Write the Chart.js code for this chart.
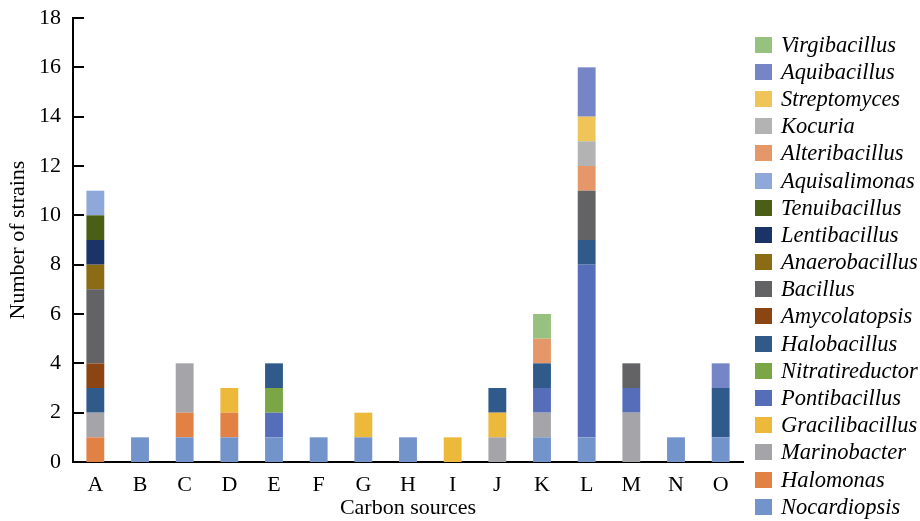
<!DOCTYPE html>
<html>
<head>
<meta charset="utf-8">
<script src="https://cdn.jsdelivr.net/npm/chart.js@4/dist/chart.umd.min.js"></script>
<style>
html,body{margin:0;padding:0;background:#fff;}
#wrap{position:relative;width:920px;height:521px;}
#legend{position:absolute;left:755px;top:31px;font-family:'Liberation Serif','Times New Roman',serif;font-style:italic;font-size:22.5px;color:#000;}
#legend .row{height:27.2px;display:flex;align-items:center;white-space:nowrap;}
#legend .box{width:17px;height:16px;margin-right:9px;flex:none;}
</style>
</head>
<body>
<div id="wrap"><canvas id="c" width="920" height="521"></canvas><div id="legend"></div></div>
<script>
const categories = ["A","B","C","D","E","F","G","H","I","J","K","L","M","N","O"];
const yTicks = [0,2,4,6,8,10,12,14,16,18];

// series, bottom of stack first
const nocardiopsis    = [0,1,1,1,1,1,1,1,0,0,1,1,0,1,1];
const halomonas       = [1,0,1,1,0,0,0,0,0,0,0,0,0,0,0];
const marinobacter    = [1,0,2,0,0,0,0,0,0,1,1,0,2,0,0];
const gracilibacillus = [0,0,0,1,0,0,1,0,1,1,0,0,0,0,0];
const pontibacillus   = [0,0,0,0,1,0,0,0,0,0,1,7,1,0,0];
const nitratireductor = [0,0,0,0,1,0,0,0,0,0,0,0,0,0,0];
const halobacillus    = [1,0,0,0,1,0,0,0,0,1,1,1,0,0,2];
const amycolatopsis   = [1,0,0,0,0,0,0,0,0,0,0,0,0,0,0];
const bacillus        = [3,0,0,0,0,0,0,0,0,0,0,2,1,0,0];
const anaerobacillus  = [1,0,0,0,0,0,0,0,0,0,0,0,0,0,0];
const lentibacillus   = [1,0,0,0,0,0,0,0,0,0,0,0,0,0,0];
const tenuibacillus   = [1,0,0,0,0,0,0,0,0,0,0,0,0,0,0];
const aquisalimonas   = [1,0,0,0,0,0,0,0,0,0,0,0,0,0,0];
const alteribacillus  = [0,0,0,0,0,0,0,0,0,0,1,1,0,0,0];
const kocuria         = [0,0,0,0,0,0,0,0,0,0,0,1,0,0,0];
const streptomyces    = [0,0,0,0,0,0,0,0,0,0,0,1,0,0,0];
const aquibacillus    = [0,0,0,0,0,0,0,0,0,0,0,2,0,0,1];
const virgibacillus   = [0,0,0,0,0,0,0,0,0,0,1,0,0,0,0];

const seriesNames = ["Nocardiopsis","Halomonas","Marinobacter","Gracilibacillus","Pontibacillus","Nitratireductor","Halobacillus","Amycolatopsis","Bacillus","Anaerobacillus","Lentibacillus","Tenuibacillus","Aquisalimonas","Alteribacillus","Kocuria","Streptomyces","Aquibacillus","Virgibacillus"];
const seriesData = [nocardiopsis,halomonas,marinobacter,gracilibacillus,pontibacillus,nitratireductor,halobacillus,amycolatopsis,bacillus,anaerobacillus,lentibacillus,tenuibacillus,aquisalimonas,alteribacillus,kocuria,streptomyces,aquibacillus,virgibacillus];
const seriesColors = ["#7393CB","#E18244","#A5A4A8","#EDB93A","#566DBA","#7BA646","#2F5A8A","#8B4513","#636264","#8B6B14","#1A3468","#4A5E16","#8EA9D9","#E5976A","#B3B3B3","#EFC55A","#7585C5","#97C17E"];

const FONT = "'Liberation Serif','Times New Roman',serif";

// HTML legend (top = last series)
const leg = document.getElementById('legend');
for (let i = seriesNames.length - 1; i >= 0; i--) {
  const r = document.createElement('div'); r.className = 'row';
  const b = document.createElement('span'); b.className = 'box'; b.style.background = seriesColors[i];
  const t = document.createElement('span'); t.textContent = seriesNames[i];
  r.appendChild(b); r.appendChild(t); leg.appendChild(r);
}

const datasets = seriesNames.map((n,i)=>({
  label: n,
  data: seriesData[i],
  backgroundColor: seriesColors[i],
  borderWidth: 0,
  categoryPercentage: 1.0,
  barPercentage: 0.4
}));

const innerTicks = {
  id:'innerTicks',
  afterDraw(chart){
    const y = chart.scales.y, x = chart.scales.x;
    const ctx = chart.ctx;
    ctx.save();
    ctx.strokeStyle = '#000';
    ctx.lineWidth = 2;
    yTicks.forEach(v=>{
      const py = Math.round(y.getPixelForValue(v));
      ctx.beginPath();
      ctx.moveTo(x.left, py);
      ctx.lineTo(x.left+11, py);
      ctx.stroke();
    });
    ctx.restore();
  }
};

new Chart(document.getElementById('c'), {
  type: 'bar',
  data: { labels: categories, datasets },
  options: {
    responsive: false,
    animation: false,
    devicePixelRatio: 1,
    layout: { padding: { top: 18, right: 177, left: 0, bottom: 0 } },
    plugins: { legend: { display: false }, tooltip: { enabled: false } },
    scales: {
      x: {
        stacked: true,
        afterFit(s){ s.height = 59; s.paddingLeft = 0; s.paddingRight = 0; },
        grid: { display: false, drawTicks: false },
        border: { display: true, color: '#000', width: 2 },
        ticks: { color: '#000', padding: 10, font: { family: FONT, size: 22 } },
        title: { display: true, text: 'Carbon sources', color: '#000', padding: { top: 0, bottom: 0 }, font: { family: FONT, size: 22 } }
      },
      y: {
        stacked: true,
        min: 0, max: 18,
        afterFit(s){ s.width = 73; s.paddingTop = 0; s.paddingBottom = 0; },
        afterBuildTicks(scale){ scale.ticks = yTicks.map(v=>({value:v})); },
        grid: { display: false, drawTicks: false },
        border: { display: true, color: '#000', width: 2 },
        ticks: { color: '#000', padding: 12, font: { family: FONT, size: 22 } },
        title: { display: true, text: 'Number of strains', color: '#000', padding: { top: 5, bottom: 0 }, font: { family: FONT, size: 22 } }
      }
    }
  },
  plugins: [innerTicks]
});
</script>
</body>
</html>
